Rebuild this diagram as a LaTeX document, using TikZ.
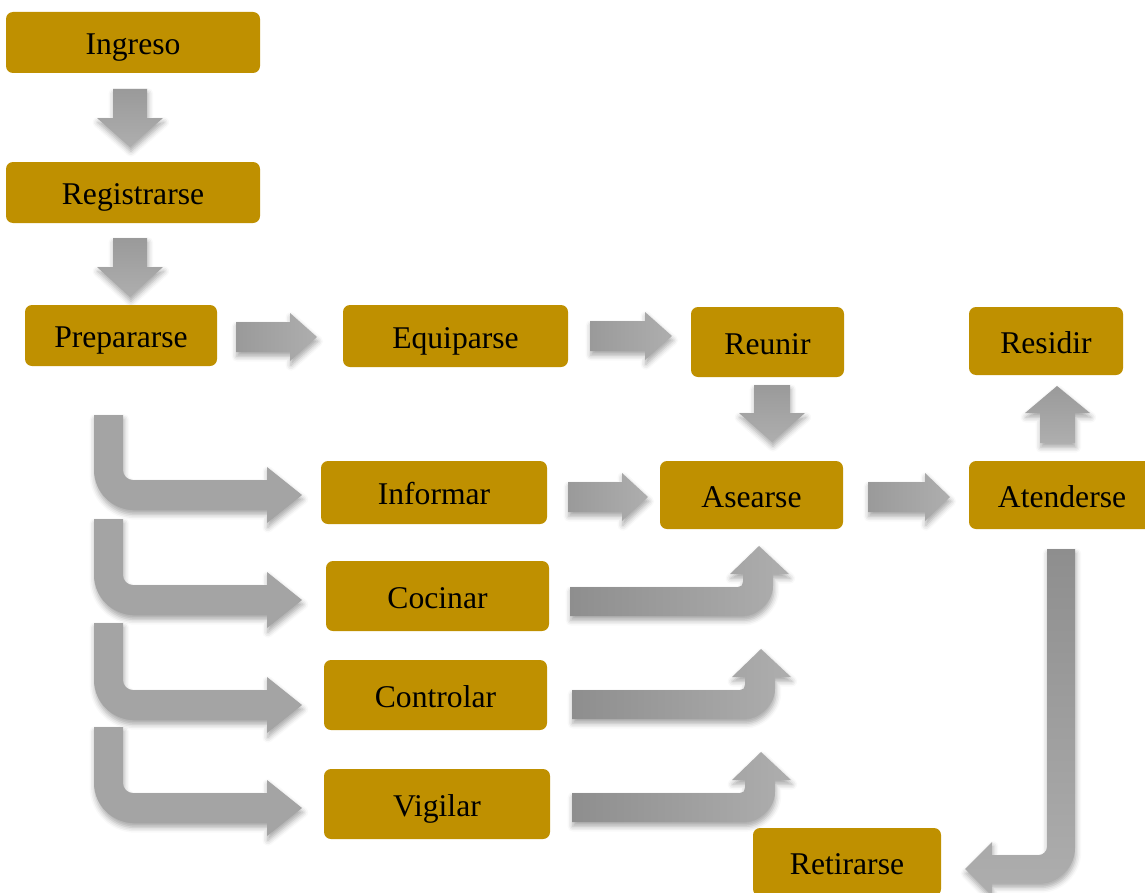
\documentclass[tikz,border=0pt]{standalone}
\usepackage{fontspec}
\setmainfont{Liberation Serif}
\usetikzlibrary{shadows.blur}
\definecolor{gold}{HTML}{BF9000}
\definecolor{gdark}{HTML}{8E8E8E}
\definecolor{gsoft}{HTML}{9A9A9A}
\definecolor{gmid}{HTML}{A4A4A4}
\definecolor{glight}{HTML}{AEAEAE}
\tikzset{
  box/.style={fill=gold, draw=none, rounded corners=0.14cm, inner sep=0pt,
    text height=14.2pt, text depth=0pt,
    font=\fontsize{18}{21}\selectfont, text=black},
  blockarrow/.style={draw=none, blur shadow={shadow xshift=0.5pt, shadow yshift=-2.5pt,
    shadow blur radius=3pt, shadow opacity=35}},
  flatarrow/.style={blockarrow, fill=gmid},
  hshade/.style={blockarrow, left color=gdark, right color=glight},
  hsoft/.style={blockarrow, left color=gsoft, right color=glight},
  vshade/.style={blockarrow, top color=gsoft, bottom color=glight},
}
% a step box given by its corners (in drawing units of 0.02cm)
\newcommand\stepbox[6]{% name, x1, y1, x2, y2, text
  \node[box, minimum width={(#4-#2)*0.02cm}, minimum height={(#5-#3)*0.02cm}]
    (#1) at ({(#2+#4)/2},{(#3+#5)/2}) {#6};}
% straight block arrows
\newcommand\downarrowblk[5]{% centre x, top y, head base y, tip y, shaft half width
  \path[vshade] (#1-#5,#2) -- (#1+#5,#2) -- (#1+#5,#3) -- (#1+33,#3) -- (#1,#4)
    -- (#1-33,#3) -- (#1-#5,#3) -- cycle;}
\newcommand\rightarrowblk[4]{% start x, tip x, centre y, head base x
  \path[hsoft] (#1,#3-15) -- (#4,#3-15) -- (#4,#3-24) -- (#2,#3) -- (#4,#3+24)
    -- (#4,#3+15) -- (#1,#3+15) -- cycle;}
% bent arrow: down, then right to a tip at (302,#2)
\newcommand\bentright[2]{% top y, tip y
  \path[flatarrow] (94,#1) -- (94,#2-25)
    .. controls (94,#2-3) and (112,#2+15) .. (134,#2+15)
    -- (267,#2+15) -- (267,#2+28) -- (302,#2) -- (267,#2-28) -- (267,#2-15)
    -- (133,#2-15) .. controls (127.5,#2-15) and (123,#2-19.5) .. (123,#2-25)
    -- (123,#1) -- cycle;}
% bent arrow: right, then up
\newcommand\bentup[3]{% start x, vertical left x, shaft bottom y
  \path[hshade] (#1,#3-29) -- (#2-5,#3-29)
    .. controls (#2-2,#3-29) and (#2,#3-31) .. (#2,#3-34)
    -- (#2,#3-42) -- (#2-13,#3-42) -- (#2+16,#3-70) -- (#2+46,#3-42) -- (#2+30,#3-42)
    -- (#2+30,#3-30) .. controls (#2+30,#3-13) and (#2+13,#3) .. (#2,#3)
    -- (#1,#3) -- cycle;}
\begin{document}
\begin{tikzpicture}[x=0.02cm,y=-0.02cm]
\useasboundingbox (0,0) rectangle (1145,892);

% arrows between the steps
\downarrowblk{130}{89}{118}{147}{17}
\downarrowblk{130}{238}{267}{297}{17}
\downarrowblk{772}{385}{413}{442}{18}
\path[vshade] (1040,443) -- (1040,413) -- (1025,413) -- (1057,386) -- (1090,413)
  -- (1075,413) -- (1075,443) -- cycle;
\rightarrowblk{236}{317}{337}{290}
\rightarrowblk{590}{672}{336}{645}
\rightarrowblk{568}{648}{497}{622}
\rightarrowblk{868}{950}{497}{925}

\bentright{415}{495}
\bentright{519}{600}
\bentright{623}{705}
\bentright{727}{808}

\bentup{570}{743}{616}
\bentup{572}{745}{719}
\bentup{572}{745}{822}

\path[blockarrow, top color=gdark, bottom color=glight] (1047,549) -- (1075,549)
  -- (1075,848) .. controls (1075,867) and (1059,883) .. (1040,883)
  -- (992,883) -- (992,896) -- (965,869) -- (992,842) -- (992,855)
  -- (1039,855) .. controls (1043,855) and (1047,851) .. (1047,847) -- cycle;

% process steps
\stepbox{ingreso}{6}{12}{260}{73}{Ingreso}
\stepbox{registrarse}{6}{162}{260}{223}{Registrarse}
\stepbox{prepararse}{25}{305}{217}{366}{Prepararse}
\stepbox{equiparse}{343}{305}{568}{367}{Equiparse}
\stepbox{reunir}{691}{307}{844}{377}{Reunir}
\stepbox{residir}{969}{307}{1123}{375}{Residir}
\stepbox{informar}{321}{461}{547}{524}{Informar}
\stepbox{asearse}{660}{461}{843}{529}{Asearse}
\stepbox{atenderse}{969}{461}{1155}{529}{Atenderse}
\stepbox{cocinar}{326}{561}{549}{631}{Cocinar}
\stepbox{controlar}{324}{660}{547}{730}{Controlar}
\stepbox{vigilar}{324}{769}{550}{839}{Vigilar}
\stepbox{retirarse}{753}{828}{941}{896}{Retirarse}
\end{tikzpicture}
\end{document}
